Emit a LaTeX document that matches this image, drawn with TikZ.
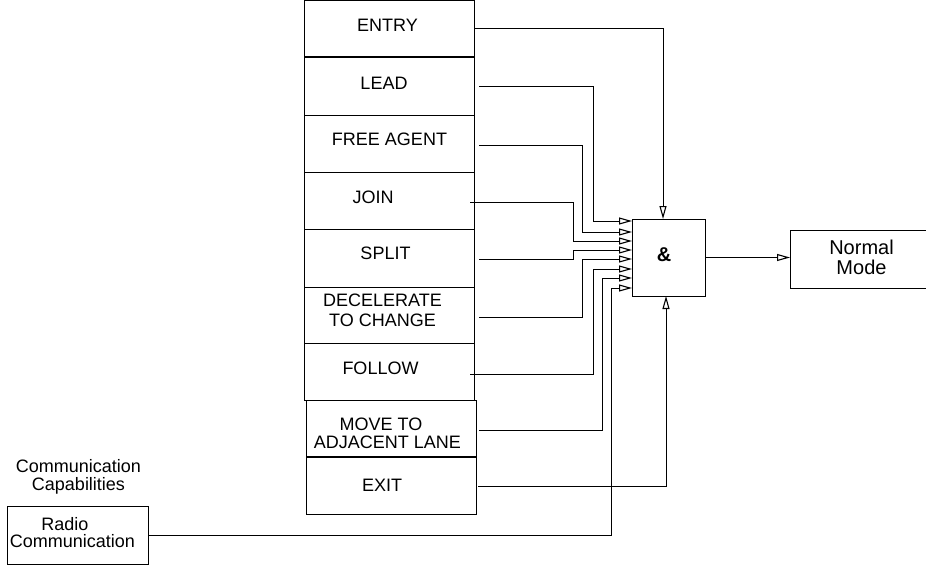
\documentclass[tikz,border=0pt]{standalone}
\usepackage{fontspec}
\setmainfont{Liberation Sans}
\usetikzlibrary{arrows.meta}
\begin{document}
\begin{tikzpicture}[x=1pt,y=-1pt,
  line width=1pt,
  box/.style={draw, rectangle, inner sep=0pt, outer sep=0pt},
  stackbox/.style={box, minimum width=170pt},
  lbl/.style={inner sep=0pt, anchor=north, align=center, font=\fontsize{18}{18.5}\selectfont},
  arr/.style={-{Triangle[open,length=13pt,width=7pt,line width=1.1pt]}},
  conn/.style={draw}
]
\useasboundingbox (0,0) rectangle (926,567);
\clip (0,0) rectangle (926,567);

% stack of boxes
\node[stackbox, minimum height=56pt] (entry)  at (389,29)    {};
\node[stackbox, minimum height=58pt] (lead)   at (389,87)    {};
\node[stackbox, minimum height=56pt] (free)   at (389,144)   {};
\node[stackbox, minimum height=57pt] (join)   at (389,200.5) {};
\node[stackbox, minimum height=58pt] (split)  at (389,258)   {};
\node[stackbox, minimum height=56pt] (decel)  at (389,315)   {};
\node[stackbox, minimum height=57pt] (follow) at (389,371.5) {};
\node[stackbox, minimum height=56.5pt] (move) at (391,428.25) {};
\node[stackbox, minimum height=56.5pt] (exit) at (391,485.75) {};

% labels of the stack
\node[lbl] (entryT)  at (387.5,18.5)  {ENTRY};
\node[lbl] (leadT)   at (384,76.5)    {LEAD};
\node[lbl] (freeT)   at (389.5,132.5) {FREE AGENT};
\node[lbl] (joinT)   at (373,190.5)   {JOIN};
\node[lbl] (splitT)  at (385.5,246.5) {SPLIT};
\node[lbl, font=\fontsize{18}{19.5}\selectfont] (decelT) at (382.5,293.5) {DECELERATE\\TO CHANGE};
\node[lbl] (followT) at (380.5,361.5) {FOLLOW};
\node[lbl, font=\fontsize{18}{18}\selectfont] (moveT) at (387.5,417) {MOVE TO\hspace*{13pt}\\ADJACENT LANE};
\node[lbl] (exitT)   at (382,478.5)   {EXIT};

% AND gate
\node[box, minimum width=73pt, minimum height=77pt] (andg) at (668.5,257.5) {};
\node[inner sep=0pt, font=\fontsize{20}{20}\bfseries] (andT) at (664,255) {\&};

% Normal mode
\node[box, minimum width=145pt, minimum height=58pt] (normal) at (862.5,259) {};
\node[lbl, font=\fontsize{20}{20}\selectfont] (normalT) at (861.5,240) {Normal\\Mode};

% Radio communication
\node[box, minimum width=141pt, minimum height=58pt] (radio) at (77.5,535) {};
\node[lbl, font=\fontsize{18}{17}\selectfont] (radioT) at (72.5,517) {Radio\hspace*{15pt}\\Communication};
\node[lbl, font=\fontsize{18}{18}\selectfont] (capT) at (78.5,459) {Communication\\Capabilities};

% connectors
\draw[arr] (entry.east) -| ([xshift=-5.5pt]andg.north);
\draw[arr] ([xshift=5pt]lead.east) -| (593,221) -- ([yshift=-2pt]andg.north west);
\draw[arr] ([shift={(5pt,-2pt)}]free.east) -| (582,232) -- ([yshift=-13pt]andg.north west);
\draw[arr] ([shift={(-4pt,-1.5pt)}]join.east) -| (573,241) -- ([yshift=-22pt]andg.north west);
\draw[arr] ([shift={(5pt,-1pt)}]split.east) -| (573,250) -- ([yshift=-31pt]andg.north west);
\draw[arr] ([shift={(5pt,-2pt)}]decel.east) -| (582,259) -- ([yshift=-40pt]andg.north west);
\draw[arr] ([shift={(-4pt,-2.5pt)}]follow.east) -| (593,269) -- ([yshift=-50pt]andg.north west);
\draw[arr] ([shift={(3pt,-1.75pt)}]move.east) -| (602,278) -- ([yshift=-59pt]andg.north west);
\draw[arr] (radio.east) -| (611,288) -- ([yshift=-69pt]andg.north west);
\draw[arr] ([shift={(2pt,-0.25pt)}]exit.east) -| ([xshift=-2.5pt]andg.south);
\draw[arr] (andg.east) -- (andg.east -| normal.west);
\end{tikzpicture}
\end{document}
